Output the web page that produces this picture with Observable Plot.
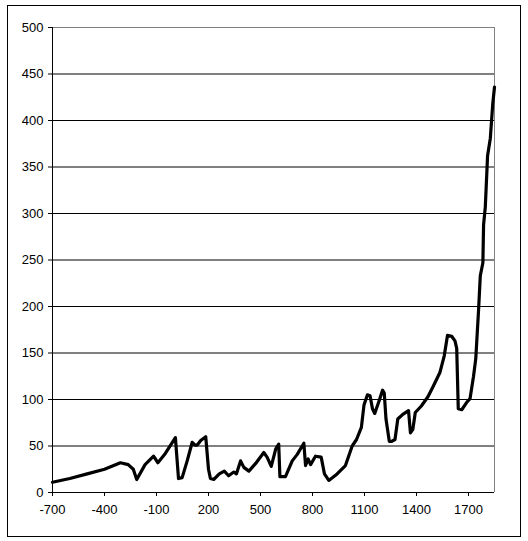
<!DOCTYPE html>
<html>
<head>
<meta charset="utf-8">
<script src="https://cdn.jsdelivr.net/npm/d3@7"></script>
<script src="https://cdn.jsdelivr.net/npm/@observablehq/plot@0.6"></script>
<style>
  html, body { margin: 0; padding: 0; background: #fff; }
  #chart { width: 528px; height: 541px; }
</style>
</head>
<body>
<div id="chart"></div>
<script>
const years = [-700, -600, -500, -400, -308, -263, -234, -214, -166, -117, -92, -49, 9,
  27, 48, 77, 106, 122, 135, 155, 184, 200, 211, 231, 262, 291, 316, 346, 361, 385, 404,
  433, 471, 519, 538, 562, 588, 605, 612, 644, 683, 712, 750, 760, 775, 789,
  817, 850, 869, 894, 942, 990, 1029, 1054, 1082, 1097, 1117, 1132, 1146, 1159,
  1185, 1204, 1214, 1224, 1243, 1257, 1276, 1292, 1321, 1354, 1365, 1379, 1393,
  1428, 1466, 1496, 1535, 1560, 1579, 1603, 1622, 1632, 1641, 1661, 1690, 1709,
  1729, 1742, 1758, 1768, 1783, 1787, 1797, 1810, 1826, 1840, 1850];
const values = [11, 15, 20, 25, 32, 30, 25, 14, 30, 39, 32, 42, 59,
  15, 16, 34, 54, 51, 51, 56, 60, 25, 15, 14, 20, 23, 18, 22, 20, 34, 27,
  23, 31, 43, 38, 28, 47, 52, 17, 17, 34, 41, 53, 29, 36, 30,
  39, 38, 20, 13, 20, 29, 50, 57, 70, 94, 105, 104, 90, 85,
  99, 110, 107, 79, 55, 55, 57, 79, 84, 88, 64, 68, 86,
  93, 103, 114, 129, 147, 169, 168, 163, 155, 90, 89, 97, 101,
  125, 144, 196, 233, 247, 288, 307, 362, 381, 418, 436];
const xTicks = [-700, -400, -100, 200, 500, 800, 1100, 1400, 1700];
const yTicks = [0, 50, 100, 150, 200, 250, 300, 350, 400, 450, 500];
const gridValues = [50, 100, 150, 200, 250, 300, 350, 400, 450];

const data = years.map((y, i) => ({year: y, value: values[i]}));

const plot = Plot.plot({
  width: 528,
  height: 541,
  marginLeft: 52,
  marginRight: 34,
  marginTop: 27,
  marginBottom: 49,
  style: {fontFamily: "Liberation Sans, Arial, sans-serif", fontSize: "13px", color: "#000", background: "#fff"},
  x: {domain: [-700, 1850], ticks: xTicks, tickSize: 4, tickPadding: 8, label: null, tickFormat: d => String(d)},
  y: {domain: [0, 500], ticks: yTicks, tickSize: 4, tickPadding: 5, label: null, tickFormat: d => String(d)},
  marks: [
    Plot.ruleY(gridValues, {stroke: "#000", strokeWidth: 1}),
    Plot.ruleY([500], {stroke: "#808080", strokeWidth: 1}),
    Plot.ruleX([1850], {stroke: "#808080", strokeWidth: 1}),
    Plot.ruleX([-700], {stroke: "#000", strokeWidth: 1}),
    Plot.ruleY([0], {stroke: "#000", strokeWidth: 1}),
    Plot.axisX({ticks: xTicks, tickSize: 4, tickPadding: 8, stroke: "#000", label: null, tickFormat: d => String(d)}),
    Plot.axisY({ticks: yTicks, tickSize: 4, tickPadding: 5, stroke: "#000", label: null, tickFormat: d => String(d)}),
    Plot.line(data, {x: "year", y: "value", stroke: "#000", strokeWidth: 3.2, strokeLinejoin: "round", strokeLinecap: "round"})
  ]
});

d3.select(plot).append("rect")
  .attr("x", 7.5).attr("y", 5.5)
  .attr("width", 513).attr("height", 531)
  .attr("fill", "none").attr("stroke", "#000").attr("stroke-width", 1);

document.getElementById("chart").appendChild(plot);
</script>
</body>
</html>
